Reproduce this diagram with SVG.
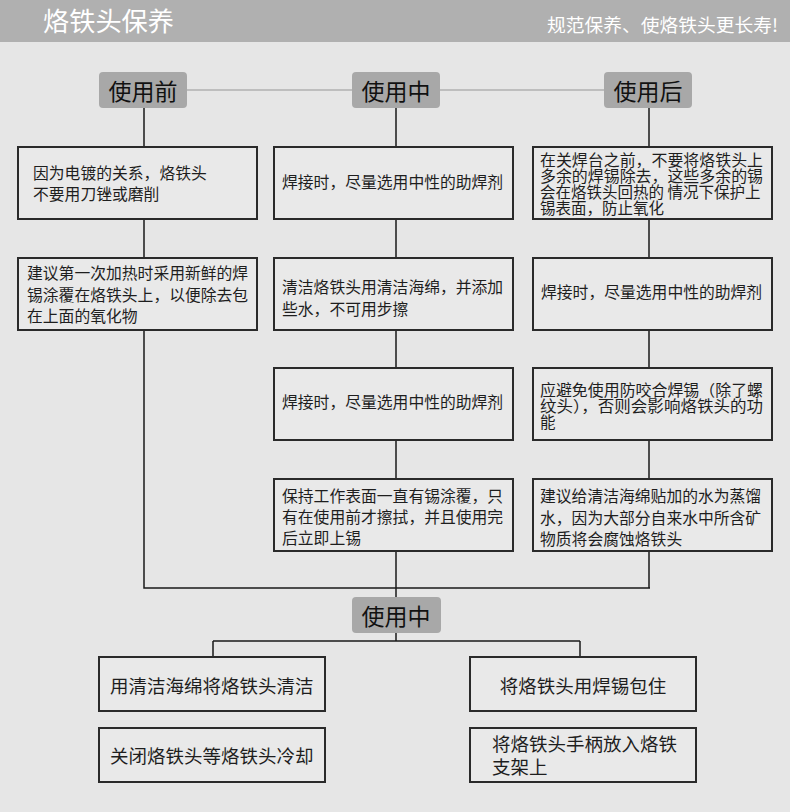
<svg xmlns="http://www.w3.org/2000/svg" width="790" height="812" viewBox="0 0 790 812">
<style>
text{font-family:"Noto Sans CJK SC","Noto Sans",sans-serif;fill:#1e1e1e}
.hd{fill:#ffffff}
.lbl{fill:#a8a8a8;stroke:none}
.lt{font-size:23px;text-anchor:middle;dominant-baseline:central;fill:#111}
.box{fill:#e9e9e9;stroke:#2a2a2a;stroke-width:2}
.bt{font-size:15.8px}
.bs{font-size:15.5px}
.bb{font-size:18.5px}
.ln{fill:none;stroke:#1a1a1a;stroke-width:1.5}
.gl{fill:none;stroke:#b0b0b0;stroke-width:1.5}
</style>
<rect x="0" y="0" width="790" height="812" fill="#e6e6e6"/>
<g id="header">
<rect x="0" y="0" width="790" height="42" fill="#b0b0b0"/>
<text class="hd" x="43" y="31" font-size="26" textLength="131" lengthAdjust="spacingAndGlyphs">烙铁头保养</text>
<text class="hd" x="778" y="32" font-size="18" text-anchor="end" textLength="231" lengthAdjust="spacingAndGlyphs">规范保养、使烙铁头更长寿!</text>
</g>
<g id="connectors">
<line class="gl" x1="187" y1="90" x2="352" y2="90"/>
<line class="gl" x1="440" y1="90" x2="604" y2="90"/>
<path class="ln" d="M144 108V147M144 219V258M144 330V588H650M396 108V147M396 219V258M396 330V368M396 440V479M396 551V597M649 108V147M649 219V258M649 330V368M649 440V479M649 551V588"/>
<path class="ln" d="M396 633V641M213 641H580M213 641V657M580 641V657"/>
</g>
<g id="label-before"><rect class="lbl" x="99" y="72" width="88" height="36" rx="4"/><text class="lt" x="143" y="90">使用前</text></g>
<g id="label-during"><rect class="lbl" x="352" y="72" width="88" height="36" rx="4"/><text class="lt" x="396" y="90">使用中</text></g>
<g id="label-after"><rect class="lbl" x="604" y="72" width="88" height="36" rx="4"/><text class="lt" x="648" y="90">使用后</text></g>

<g id="b1"><rect class="box" x="18" y="147" width="239" height="72"/>
<text class="bt"><tspan x="33" y="179">因为电镀的关系，烙铁头</tspan><tspan x="33" y="200">不要用刀锉或磨削</tspan></text></g>
<g id="b2"><rect class="box" x="18" y="258" width="239" height="72"/>
<text class="bt"><tspan x="27" y="279">建议第一次加热时采用新鲜的焊</tspan><tspan x="27" y="301">锡涂覆在烙铁头上，以便除去包</tspan><tspan x="27" y="322">在上面的氧化物</tspan></text></g>

<g id="m1"><rect class="box" x="274" y="147" width="239" height="72"/>
<text class="bt" x="282" y="188">焊接时，尽量选用中性的助焊剂</text></g>
<g id="m2"><rect class="box" x="274" y="258" width="239" height="72"/>
<text class="bt"><tspan x="282" y="293">清洁烙铁头用清洁海绵，并添加</tspan><tspan x="282" y="315">些水，不可用步擦</tspan></text></g>
<g id="m3"><rect class="box" x="274" y="368" width="239" height="72"/>
<text class="bt" x="282" y="408">焊接时，尽量选用中性的助焊剂</text></g>
<g id="m4"><rect class="box" x="274" y="479" width="239" height="72"/>
<text class="bt"><tspan x="282" y="502">保持工作表面一直有锡涂覆，只</tspan><tspan x="282" y="523">有在使用前才擦拭，并且使用完</tspan><tspan x="282" y="544">后立即上锡</tspan></text></g>

<g id="r1"><rect class="box" x="533" y="147" width="239" height="72"/>
<text class="bs"><tspan x="540" y="166" textLength="223" lengthAdjust="spacingAndGlyphs">在关焊台之前，不要将烙铁头上</tspan><tspan x="540" y="182" textLength="223" lengthAdjust="spacingAndGlyphs">多余的焊锡除去，这些多余的锡</tspan><tspan x="540" y="198">会在烙铁头回热的 情况下保护上</tspan><tspan x="540" y="214">锡表面，防止氧化</tspan></text></g>
<g id="r2"><rect class="box" x="533" y="258" width="239" height="72"/>
<text class="bt" x="541" y="298">焊接时，尽量选用中性的助焊剂</text></g>
<g id="r3"><rect class="box" x="533" y="368" width="239" height="72"/>
<text class="bs"><tspan x="540" y="396" textLength="223" lengthAdjust="spacingAndGlyphs">应避免使用防咬合焊锡（除了螺</tspan><tspan x="540" y="412" textLength="223" lengthAdjust="spacingAndGlyphs">纹头），否则会影响烙铁头的功</tspan><tspan x="540" y="428">能</tspan></text></g>
<g id="r4"><rect class="box" x="533" y="479" width="239" height="72"/>
<text class="bt"><tspan x="540" y="502">建议给清洁海绵贴加的水为蒸馏</tspan><tspan x="540" y="524">水，因为大部分自来水中所含矿</tspan><tspan x="540" y="545">物质将会腐蚀烙铁头</tspan></text></g>

<g id="label-during2"><rect class="lbl" x="352" y="597" width="89" height="36" rx="4"/><text class="lt" x="396" y="615">使用中</text></g>

<g id="c1"><rect class="box" x="99" y="657" width="226" height="54"/>
<text class="bb" x="110" y="693">用清洁海绵将烙铁头清洁</text></g>
<g id="c2"><rect class="box" x="99" y="728" width="226" height="54"/>
<text class="bb" x="110" y="763">关闭烙铁头等烙铁头冷却</text></g>
<g id="c3"><rect class="box" x="470" y="657" width="226" height="54"/>
<text class="bb" x="583" y="693" text-anchor="middle">将烙铁头用焊锡包住</text></g>
<g id="c4"><rect class="box" x="470" y="728" width="226" height="54"/>
<text class="bb"><tspan x="492" y="751">将烙铁头手柄放入烙铁</tspan><tspan x="492" y="774">支架上</tspan></text></g>
</svg>
